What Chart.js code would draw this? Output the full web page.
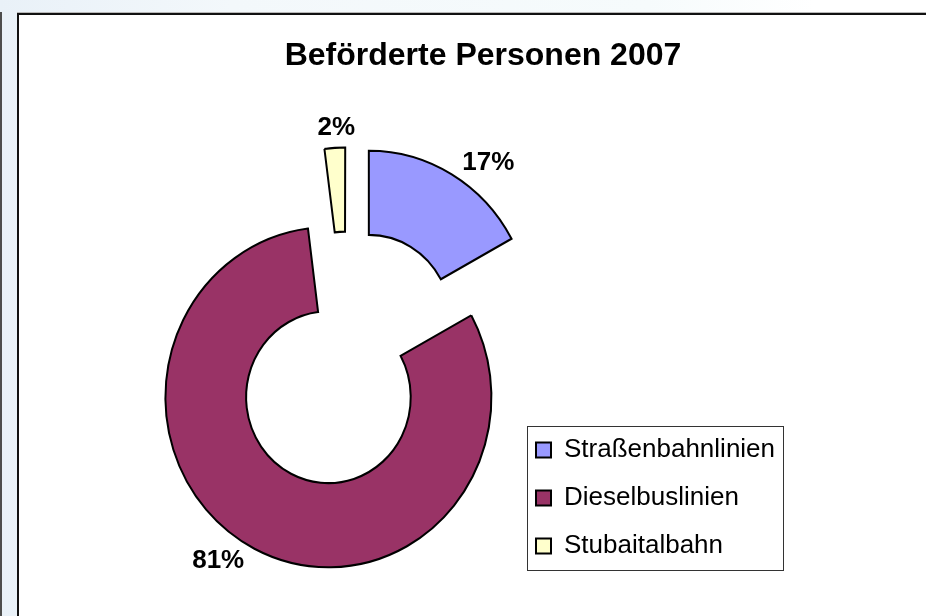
<!DOCTYPE html>
<html lang="de">
<head>
<meta charset="utf-8">
<title>Beförderte Personen 2007</title>
<script src="https://cdn.jsdelivr.net/npm/chart.js@4.4.1/dist/chart.umd.min.js"></script>
<style>
  html, body { margin: 0; padding: 0; overflow: hidden; }
  body {
    width: 926px; height: 616px; position: relative;
    background: linear-gradient(to right, #e9f1f8 0%, #f3f8fb 25%, #f6fbfc 70%, #ffffff 88%);
  }
  #edge { position: absolute; left: 0; top: 12px; bottom: 0; width: 2px; background: #4d4d4d; }
  #frame {
    position: absolute; left: 17px; top: 13px;
    width: 930px; height: 640px;
    border: 2px solid #111; background: #fff;
    box-shadow: 0 -1px 0 #b8b8b8;
  }
  #wrap { position: relative; width: 930px; height: 640px; }
</style>
</head>
<body>
<div id="edge"></div>
<div id="frame"><div id="wrap"><canvas id="chart"></canvas></div></div>

<script>
// ------- Data ----------------------------------------------------------------
const categories   = ['Straßenbahnlinien', 'Dieselbuslinien', 'Stubaitalbahn'];
const shares       = [17, 81, 2];            // % of passengers carried
const sliceColours = ['#9999ff', '#993366', '#ffffcc'];

const FONT = '"Liberation Sans", Arial, Helvetica, sans-serif';
const EXPLODE = 168;                         // arc offset option (Chart.js moves arcs by offset/4)
const NUDGE = 8 * Math.PI / 180;             // labels sit a little clockwise of the mid angle
const STRETCH = 1.043;                       // the original ring is a touch taller than wide

// ------- Plugins -------------------------------------------------------------

// Chart.js grows offset arcs and trims their angle; undo both so each piece
// keeps the plain ring radius and its full share of the circle
const keepShape = {
  id: 'keepShape',
  afterDatasetsUpdate (chart) {
    chart.getDatasetMeta(0).data.forEach(arc => {
      const shift = (arc.options.offset || 0) / 4;
      const grow  = shift * (1 - Math.sin(Math.min(Math.PI, arc.circumference)));
      const R = arc.outerRadius;
      arc.outerRadius -= grow;
      arc.innerRadius -= grow;
      const widen = grow / Math.PI / R / 2;
      arc.startAngle -= widen;
      arc.endAngle += widen;
      arc.circumference += 2 * widen;
    });
  }
};

// vertical stretch of the ring around the chart-area centre
const stretchRing = {
  id: 'stretchRing',
  beforeDatasetDraw (chart) {
    const { ctx, chartArea } = chart;
    const cy = (chartArea.top + chartArea.bottom) / 2;
    ctx.save();
    ctx.translate(0, cy);
    ctx.scale(1, STRETCH);
    ctx.translate(0, -cy);
  },
  afterDatasetDraw (chart) {
    chart.ctx.restore();
  }
};

// percentage labels just outside each exploded piece
const sliceLabels = {
  id: 'sliceLabels',
  afterDatasetsDraw (chart) {
    const { ctx } = chart;
    const meta = chart.getDatasetMeta(0);
    const R = meta.controller.outerRadius;
    const total = shares.reduce((a, b) => a + b, 0);
    ctx.save();
    ctx.font = `bold 26px ${FONT}`;
    ctx.fillStyle = '#000';
    ctx.textAlign = 'center';
    ctx.textBaseline = 'middle';
    meta.data.forEach((arc, i) => {
      const mid = (arc.startAngle + arc.endAngle) / 2;
      const shift = (arc.options.offset || 0) / 4;
      const sx = arc.x + Math.cos(mid) * shift;
      const sy = arc.y + Math.sin(mid) * shift * STRETCH;
      const half = Math.PI * shares[i] / total;
      const a = mid + Math.min(NUDGE, half * 0.25);
      const cos = Math.cos(a), sin = Math.sin(a);
      const ex = sx + cos * (R + 6);
      const ey = sy + sin * (R + 6) * STRETCH;
      const text = shares[i] + '%';
      const w = ctx.measureText(text).width, h = 20;
      const d = Math.abs(cos) * w / 2 + Math.abs(sin) * h / 2;
      ctx.fillText(text, ex + cos * d, ey + sin * d);
    });
    ctx.restore();
  }
};

// move the legend next to the ring and frame it like the Excel legend
const legendBox = {
  id: 'legendBox',
  afterLayout (chart) {
    const lg = chart.legend;
    const w = lg.width, h = lg.height;
    lg.left = 495; lg.top = 400;
    lg.right = lg.left + w; lg.bottom = lg.top + h;
  },
  afterDraw (chart) {
    const hb = chart.legend.legendHitBoxes;
    if (!hb || !hb.length) return;
    const first = hb[0], last = hb[hb.length - 1];
    const left  = Math.min(...hb.map(b => b.left)) - 9;
    const right = Math.max(...hb.map(b => b.left + b.width)) + 8;
    const top = first.top - 11, bottom = last.top + last.height + 11;
    const { ctx } = chart;
    ctx.save();
    ctx.strokeStyle = '#333';
    ctx.lineWidth = 1;
    ctx.strokeRect(Math.round(left) + 0.5, Math.round(top) + 0.5,
                   Math.round(right - left), Math.round(bottom - top));
    ctx.restore();
  }
};

// ------- Chart ---------------------------------------------------------------

new Chart(document.getElementById('chart'), {
  type: 'doughnut',
  data: {
    labels: categories,
    datasets: [{
      data: shares,
      backgroundColor: sliceColours,
      borderColor: '#000',
      borderWidth: 2,
      borderJoinStyle: 'miter',
      offset: EXPLODE
    }]
  },
  options: {
    responsive: true,
    maintainAspectRatio: false,
    animation: false,
    events: [],
    radius: 163,
    cutout: '50.5%',
    layout: { padding: { left: 0, right: 2, top: 0, bottom: 21 } },
    plugins: {
      title: {
        display: true,
        text: 'Beförderte Personen 2007',
        color: '#000',
        font: { family: FONT, size: 32, weight: 'bold' },
        padding: { top: 22, bottom: 7 }
      },
      legend: {
        display: true,
        position: 'right',
        align: 'start',
        labels: {
          color: '#000',
          font: { family: FONT, size: 26 },
          boxWidth: 15,
          boxHeight: 15,
          padding: 22
        }
      },
      tooltip: { enabled: false }
    }
  },
  plugins: [keepShape, stretchRing, sliceLabels, legendBox]
});
</script>
</body>
</html>
